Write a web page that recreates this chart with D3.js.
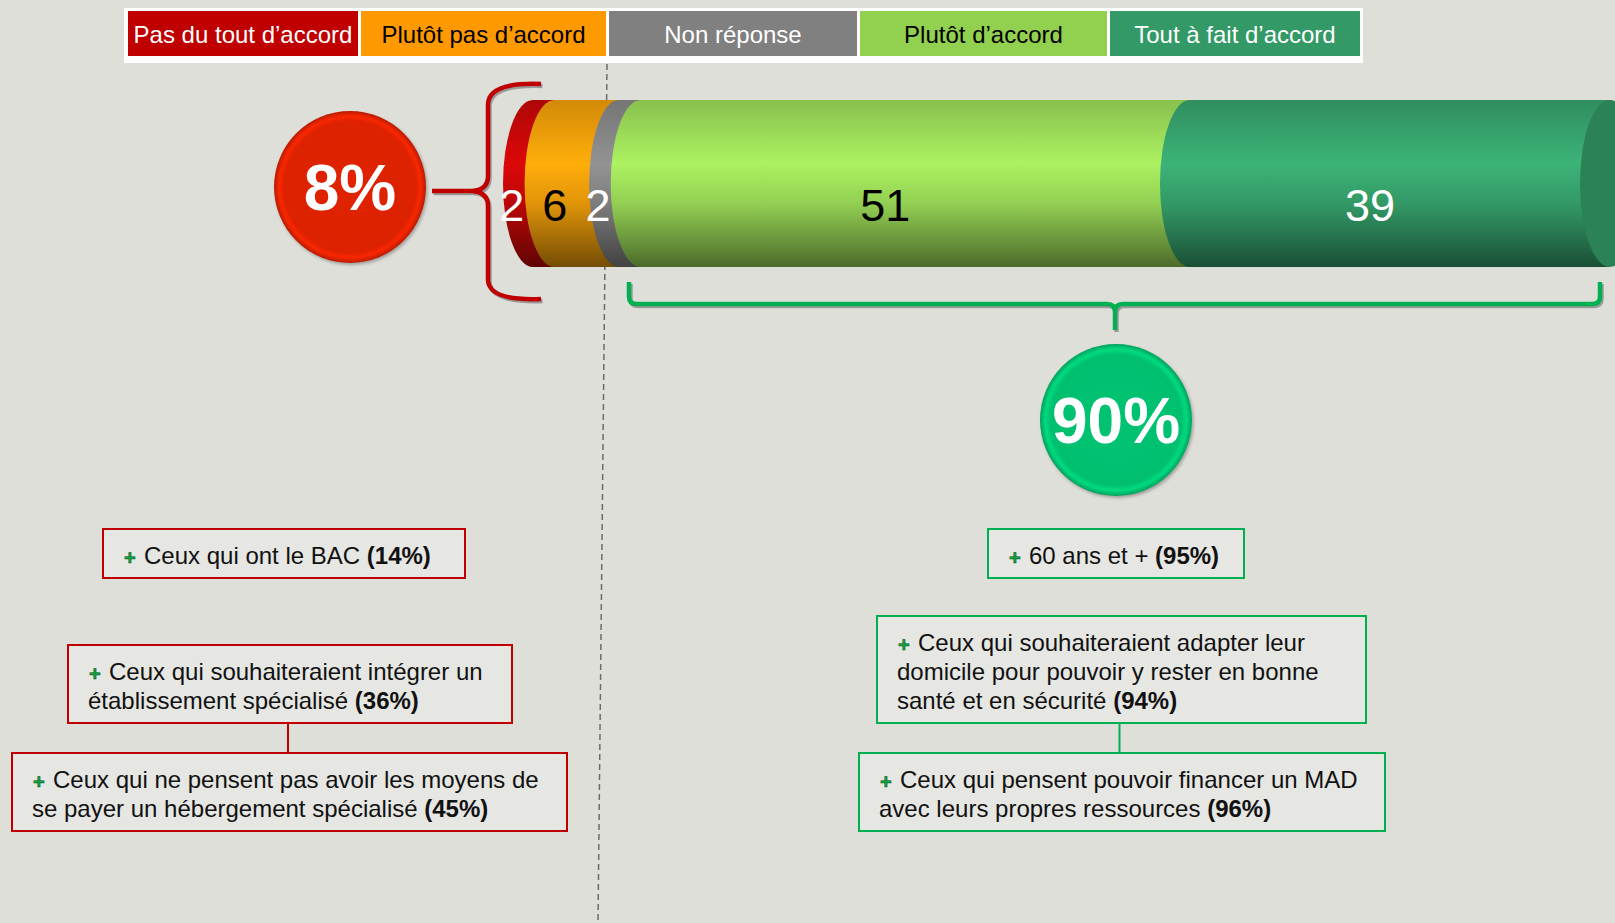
<!DOCTYPE html>
<html>
<head>
<meta charset="utf-8">
<script src="https://cdn.jsdelivr.net/npm/d3@7"></script>
<style>
  body { margin: 0; background: #dfdfda; }
  svg { display: block; font-family: "Liberation Sans", Arial, sans-serif; }
</style>
</head>
<body>
<div id="root"></div>
<script>
// ---- data ----
var categories = ['Pas du tout d’accord', 'Plutôt pas d’accord', 'Non réponse', 'Plutôt d’accord', 'Tout à fait d’accord'];
var values = [2, 6, 2, 51, 39];
var legendColors = ['#c00000', '#ff9900', '#808080', '#92d050', '#339966'];
var barColors = ['#d40808', '#ffa80a', '#8e8e8e', '#a6ea5e', '#3aad74'];
var textColors = ['#fff', '#000', '#fff', '#000', '#fff'];
var disagreeKeys = [0, 1];
var agreeKeys = [3, 4];

var leftNotes = [
  { lines: ['Ceux qui ont le BAC'], pct: 14 },
  { lines: ['Ceux qui souhaiteraient intégrer un', 'établissement spécialisé'], pct: 36 },
  { lines: ['Ceux qui ne pensent pas avoir les moyens de', 'se payer un hébergement spécialisé'], pct: 45 }
];
var rightNotes = [
  { lines: ['60 ans et +'], pct: 95 },
  { lines: ['Ceux qui souhaiteraient adapter leur', 'domicile pour pouvoir y rester en bonne', 'santé et en sécurité'], pct: 94 },
  { lines: ['Ceux qui pensent pouvoir financer un MAD', 'avec leurs propres ressources'], pct: 96 }
];

// ---- layout ----
var width = 1615, height = 923;
var barTop = 100, barBottom = 267, rx = 30;
var cy = (barTop + barBottom) / 2, ry = (barBottom - barTop) / 2;
var legendWidths = [230, 245, 248, 247, 250];
var leftBoxes = [{ x: 103, y: 529, w: 362 }, { x: 68, y: 645, w: 444 }, { x: 12, y: 753, w: 555 }];
var rightBoxes = [{ x: 988, y: 529, w: 256 }, { x: 877, y: 616, w: 489 }, { x: 859, y: 753, w: 526 }];
var lineH = 29;

var svg = d3.select('#root')
  .append('svg')
    .attr('width', width)
    .attr('height', height);

svg.append('rect')
  .attr('width', width)
  .attr('height', height)
  .attr('fill', '#dfdfda');

var defs = svg.append('defs');

var shadow = defs.append('filter').attr('id', 'shadow').attr('x', '-20%').attr('y', '-20%').attr('width', '140%').attr('height', '140%');
shadow.append('feDropShadow').attr('dx', 1.5).attr('dy', 2).attr('stdDeviation', 1.5).attr('flood-color', '#555').attr('flood-opacity', 0.45);

barColors.forEach((c, i) => {
  var base = d3.color(c);
  var g = defs.append('linearGradient')
    .attr('id', 'cyl' + i)
    .attr('x1', 0).attr('y1', 0).attr('x2', 0).attr('y2', 1);
  [[0, base.darker(0.55)], [0.38, base.brighter(0.1)], [0.62, base.darker(0.35)], [1, base.darker(2.2)]]
    .forEach(s => g.append('stop').attr('offset', s[0]).attr('stop-color', s[1]));
});

// ---- legend ----
var legendX = [128];
legendWidths.forEach((w, i) => legendX.push(legendX[i] + w + 3));

svg.append('rect')
  .attr('x', 124).attr('y', 8)
  .attr('width', 1239).attr('height', 55)
  .attr('fill', '#ffffff');

var legend = svg.selectAll('.legend')
  .data(categories)
  .enter()
  .append('g')
    .attr('class', 'legend');

legend.append('rect')
  .attr('x', (d, i) => legendX[i])
  .attr('y', 11)
  .attr('width', (d, i) => legendWidths[i])
  .attr('height', 45)
  .attr('fill', (d, i) => legendColors[i]);

legend.append('text')
  .attr('x', (d, i) => legendX[i] + legendWidths[i] / 2)
  .attr('y', 43)
  .attr('text-anchor', 'middle')
  .attr('font-size', '24px')
  .attr('fill', (d, i) => textColors[i])
  .text(d => d);

// ---- dashed separator ----
svg.append('line')
  .attr('x1', 607).attr('y1', 64)
  .attr('x2', 598).attr('y2', height)
  .attr('stroke', '#6b6b6b')
  .attr('stroke-width', 1.5)
  .attr('stroke-dasharray', '6,4');

// ---- cylinder bar ----
var xScale = d3.scaleLinear()
  .domain([0, d3.sum(values)])
  .range([503, 1580]);

var stacked = [];
values.reduce((acc, v, i) => {
  stacked.push({ key: categories[i], i: i, v: v, start: acc, end: acc + v });
  return acc + v;
}, 0);

var bar = svg.append('g').attr('class', 'bar');

bar.selectAll('path')
  .data(stacked)
  .enter()
  .append('path')
    .attr('d', d => {
      var x0 = xScale(d.start) + rx, x1 = xScale(d.end) + rx;
      return 'M' + x0 + ',' + barTop + 'H' + x1 + 'V' + barBottom + 'H' + x0 +
        'A' + rx + ',' + ry + ' 0 0 1 ' + x0 + ',' + barTop + 'Z';
    })
    .attr('fill', d => 'url(#cyl' + d.i + ')');

var last = stacked[stacked.length - 1];
bar.append('ellipse')
  .attr('cx', xScale(last.end) + rx)
  .attr('cy', cy)
  .attr('rx', rx)
  .attr('ry', ry)
  .attr('fill', d3.color(barColors[last.i]).darker(0.8));

bar.selectAll('text')
  .data(stacked)
  .enter()
  .append('text')
    .attr('x', d => xScale((d.start + d.end) / 2) - (d.v < 10 ? 2 : 0))
    .attr('y', 221)
    .attr('text-anchor', 'middle')
    .attr('font-size', '45px')
    .attr('fill', d => textColors[d.i])
    .text(d => d.v);

// ---- brackets ----
function bracket(path, color) {
  svg.append('path')
    .attr('d', path)
    .attr('fill', 'none')
    .attr('stroke', '#9a9a9a')
    .attr('stroke-width', 4.5)
    .attr('transform', 'translate(1.5,2)');
  svg.append('path')
    .attr('d', path)
    .attr('fill', 'none')
    .attr('stroke', color)
    .attr('stroke-width', 4.5)
    .attr('stroke-linejoin', 'round');
}

bracket('M541,84 Q489,82 488,104 V176 Q488,190 472,191 Q488,192 488,206 V280 Q489,301 541,299 M432,191 H472', '#c00000');
bracket('M629,282 V297 Q629,304 637,304 H1107 Q1115,304 1115,312 V330 M1115,312 Q1115,304 1123,304 H1592 Q1600,304 1600,297 V282', '#00b050');

// ---- summary circles ----
function bubble(cx, cyy, color, value) {
  var id = 'rad' + color.replace('#', '');
  var base = d3.color(color);
  var g = defs.append('radialGradient').attr('id', id);
  [[0, base.brighter(0.05)], [0.86, base], [0.93, base.brighter(0.35)], [1, base.darker(0.5)]]
    .forEach(s => g.append('stop').attr('offset', s[0]).attr('stop-color', s[1]));
  svg.append('circle')
    .attr('cx', cx).attr('cy', cyy).attr('r', 76)
    .attr('fill', 'url(#' + id + ')')
    .attr('filter', 'url(#shadow)');
  svg.append('text')
    .attr('x', cx).attr('y', cyy + 23)
    .attr('text-anchor', 'middle')
    .attr('font-size', '64px')
    .attr('font-weight', 'bold')
    .attr('fill', '#fff')
    .text(value + '%');
}

bubble(350, 187, '#dc2204', d3.sum(disagreeKeys, k => values[k]));
bubble(1116, 420, '#00c070', d3.sum(agreeKeys, k => values[k]));

// ---- notes ----
function notes(list, boxes, stroke) {
  var b1 = boxes[1], b2 = boxes[2];
  var cx = b1.x + b1.w / 2 - 2;
  svg.append('line')
    .attr('x1', cx).attr('y1', b1.y + 20 + lineH * list[1].lines.length)
    .attr('x2', cx).attr('y2', b2.y)
    .attr('stroke', stroke).attr('stroke-width', 2);

  list.forEach((n, k) => {
    var b = boxes[k];
    var h = 20 + lineH * n.lines.length;
    svg.append('rect')
      .attr('x', b.x).attr('y', b.y)
      .attr('width', b.w).attr('height', h)
      .attr('fill', '#e6e6e3')
      .attr('stroke', stroke)
      .attr('stroke-width', 2);

    svg.append('text')
      .attr('x', b.x + 21).attr('y', b.y + 36)
      .attr('font-size', '20px')
      .attr('font-weight', 'bold')
      .attr('fill', '#16a040')
      .attr('stroke', '#0b5a22')
      .attr('stroke-width', 0.6)
      .text('+');

    var t = svg.append('text')
      .attr('font-size', '24px')
      .attr('fill', '#111');
    n.lines.forEach((line, j) => {
      t.append('tspan')
        .attr('x', b.x + (j === 0 ? 41 : 20))
        .attr('y', b.y + 35 + lineH * j)
        .text(line + (j === n.lines.length - 1 ? ' ' : ''));
      if (j === n.lines.length - 1) {
        t.append('tspan')
          .attr('font-weight', 'bold')
          .text('(' + n.pct + '%)');
      }
    });
  });
}

notes(leftNotes, leftBoxes, '#c00000');
notes(rightNotes, rightBoxes, '#00b050');
</script>
</body>
</html>
